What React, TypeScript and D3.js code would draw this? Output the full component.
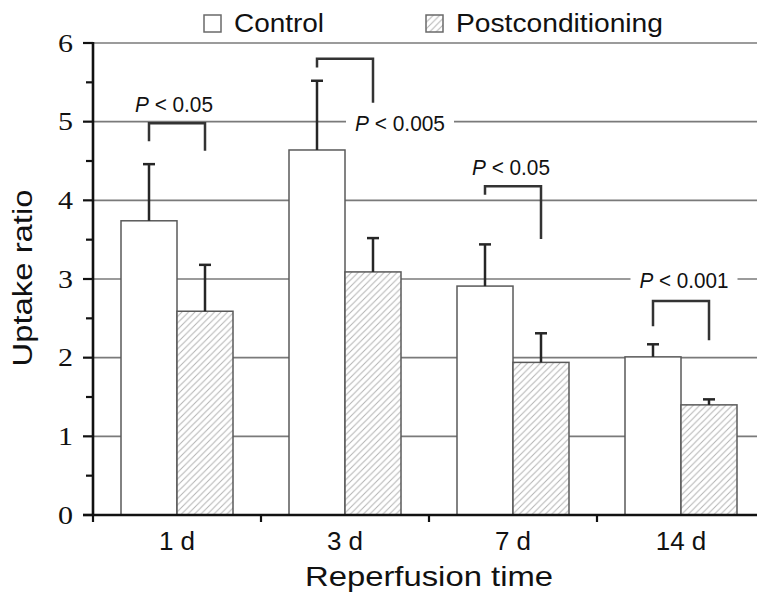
import * as d3 from "d3";

// values
const categories = ["1 d", "3 d", "7 d", "14 d"];
const seriesNames = ["Control", "Postconditioning"];
const controlMean = [3.74, 4.64, 2.91, 2.01];
const controlErr = [0.72, 0.88, 0.53, 0.16];
const postMean = [2.59, 3.09, 1.94, 1.4];
const postErr = [0.59, 0.43, 0.37, 0.07];
const yTicks = [0, 1, 2, 3, 4, 5, 6];
const yMinor = [0.5, 1.5, 2.5, 3.5, 4.5, 5.5];

// significance brackets (data units)
const pValues = ["0.05", "0.005", "0.05", "0.001"];
const bracketTop = [4.98, 5.8, 4.18, 2.72];
const bracketLeftEnd = [4.75, 5.69, 4.07, 2.4];
const bracketRightEnd = [4.63, 5.24, 3.51, 2.22];
const labelY = [5.12, 4.88, 4.32, 2.89];
const labelDx = [-3, 55, -2, 3];
const labelWidth = [78, 90, 78, 89];

const W = 757;
const H = 594;
const margin = { top: 43, left: 93, bottom: 515 };
const sans = "'Liberation Sans', Arial, Helvetica, sans-serif";
const serif = "'Liberation Serif', 'Times New Roman', serif";

export default function App() {
  const x = d3.scaleBand().domain(categories).range([margin.left, 765]);
  const xs = d3.scaleBand().domain(seriesNames).range([28, 140]);
  const y = d3.scaleLinear().domain([0, 6]).range([margin.bottom, margin.top]);

  const groups = categories.map((c, i) => ({
    cat: c,
    bars: [
      { name: seriesNames[0], v: controlMean[i], e: controlErr[i] },
      { name: seriesNames[1], v: postMean[i], e: postErr[i] },
    ],
  }));

  const bw = xs.bandwidth();
  const center = (c: string, s: string) => (x(c) as number) + (xs(s) as number) + bw / 2;

  return (
    <svg width={W} height={H} style={{ position: "absolute", left: 0, top: 0, background: "#fff" }}>
      <defs>
        <pattern id="hatch" patternUnits="userSpaceOnUse" width="6.5" height="6.5">
          <rect width="6.5" height="6.5" fill="#fff" />
          <path d="M-1,1 l2,-2 M0,6.5 l6.5,-6.5 M5.5,7.5 l2,-2" stroke="#b4b4b4" strokeWidth="1" />
        </pattern>
      </defs>

      {/* gridlines */}
      {yTicks.slice(1).map((t) => (
        <line key={t} x1={margin.left} x2={W} y1={y(t)} y2={y(t)} stroke="#7a7a7a" strokeWidth={1.6} />
      ))}

      {/* bars */}
      {groups.map((g) =>
        g.bars.map((b, j) => (
          <rect
            key={g.cat + b.name}
            x={(x(g.cat) as number) + (xs(b.name) as number)}
            y={y(b.v)}
            width={bw}
            height={y(0) - y(b.v)}
            fill={j === 0 ? "#fff" : "url(#hatch)"}
            stroke="#5a5a5a"
            strokeWidth={1.5}
          />
        ))
      )}

      {/* error bars */}
      {groups.map((g) =>
        g.bars.map((b) => {
          const cx = center(g.cat, b.name);
          return (
            <g key={"e" + g.cat + b.name} stroke="#262626" strokeWidth={2.5}>
              <line x1={cx} x2={cx} y1={y(b.v)} y2={y(b.v + b.e)} />
              <line x1={cx - 6} x2={cx + 6} y1={y(b.v + b.e)} y2={y(b.v + b.e)} />
            </g>
          );
        })
      )}

      {/* brackets and p labels */}
      {categories.map((c, i) => {
        const xl = center(c, seriesNames[0]);
        const xr = center(c, seriesNames[1]);
        const tx = (x(c) as number) + x.bandwidth() / 2 + labelDx[i];
        const ty = y(labelY[i]);
        return (
          <g key={"b" + c}>
            <path
              d={`M${xl},${y(bracketLeftEnd[i])} V${y(bracketTop[i])} H${xr} V${y(bracketRightEnd[i])}`}
              fill="none"
              stroke="#333"
              strokeWidth={2.5}
            />
            <rect x={tx - labelWidth[i] / 2 - 9} y={ty - 18} width={labelWidth[i] + 18} height={24} fill="#fff" />
            <text
              x={tx}
              y={ty}
              textAnchor="middle"
              fontFamily={sans}
              fontSize={21.5}
              fill="#111"
              textLength={labelWidth[i]}
              lengthAdjust="spacingAndGlyphs"
            >
              <tspan fontStyle="italic">P</tspan> &lt; {pValues[i]}
            </text>
          </g>
        );
      })}

      {/* y axis */}
      <line x1={margin.left} x2={margin.left} y1={y(6) - 1} y2={y(0) + 1} stroke="#111" strokeWidth={2.6} />
      {yTicks.map((t) => (
        <g key={"yt" + t}>
          <line x1={margin.left - 10} x2={margin.left} y1={y(t)} y2={y(t)} stroke="#111" strokeWidth={2.2} />
          <text
            x={73}
            y={y(t) + 8.5}
            textAnchor="end"
            fontFamily={serif}
            fontSize={26}
            fill="#111"
            textLength={15}
            lengthAdjust="spacingAndGlyphs"
          >
            {t}
          </text>
        </g>
      ))}
      {yMinor.map((t) => (
        <line key={"ym" + t} x1={margin.left - 7} x2={margin.left} y1={y(t)} y2={y(t)} stroke="#111" strokeWidth={2.2} />
      ))}

      {/* x axis */}
      <line x1={margin.left - 10} x2={W} y1={y(0)} y2={y(0)} stroke="#111" strokeWidth={2.6} />
      {categories.map((c) => (
        <g key={"xt" + c}>
          <line x1={x(c)} x2={x(c)} y1={y(0)} y2={y(0) + 7} stroke="#111" strokeWidth={2.2} />
          <text
            x={(x(c) as number) + x.bandwidth() / 2}
            y={550}
            textAnchor="middle"
            fontFamily={sans}
            fontSize={26}
            fill="#111"
          >
            {c}
          </text>
        </g>
      ))}

      {/* axis titles */}
      <text
        x={429}
        y={586}
        textAnchor="middle"
        fontFamily={sans}
        fontSize={28}
        fill="#111"
        textLength={248}
        lengthAdjust="spacingAndGlyphs"
      >
        Reperfusion time
      </text>
      <text
        transform={`translate(32,${(y(0) + y(6)) / 2 - 1}) rotate(-90)`}
        textAnchor="middle"
        fontFamily={sans}
        fontSize={27}
        fill="#111"
        textLength={177}
        lengthAdjust="spacingAndGlyphs"
      >
        Uptake ratio
      </text>

      {/* legend */}
      <rect x={204} y={15} width={17} height={17} fill="#fff" stroke="#6a6a6a" strokeWidth={1.5} />
      <text x={234} y={32} fontFamily={sans} fontSize={25} fill="#111" textLength={90} lengthAdjust="spacingAndGlyphs">
        {seriesNames[0]}
      </text>
      <rect x={426} y={15} width={17} height={17} fill="url(#hatch)" stroke="#6a6a6a" strokeWidth={1.5} />
      <text x={456} y={32} fontFamily={sans} fontSize={25} fill="#111" textLength={207} lengthAdjust="spacingAndGlyphs">
        {seriesNames[1]}
      </text>
    </svg>
  );
}
